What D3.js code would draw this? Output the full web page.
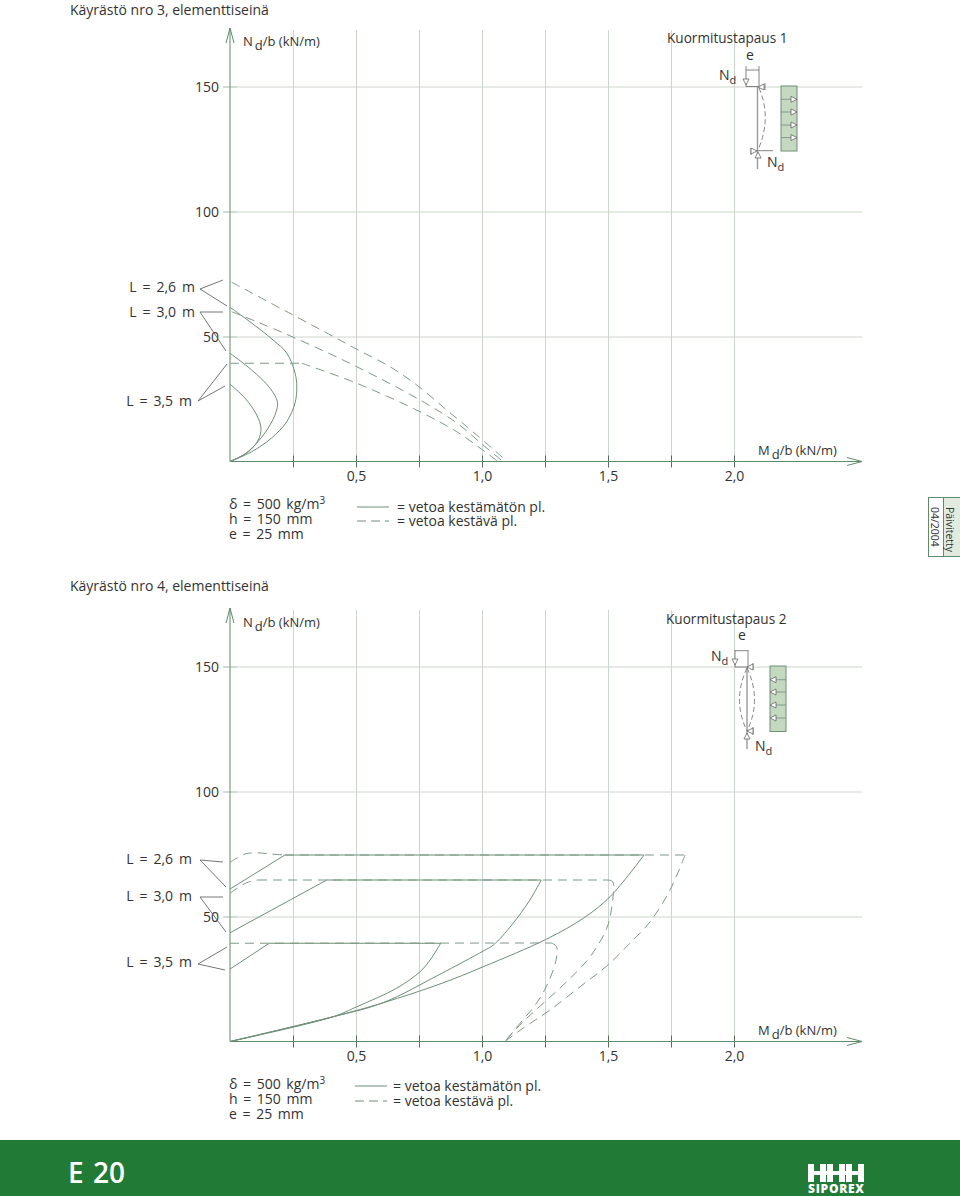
<!DOCTYPE html>
<html>
<head>
<meta charset="utf-8">
<script src="https://cdn.jsdelivr.net/npm/d3@7/dist/d3.min.js"></script>
<style>
html,body{margin:0;padding:0;background:#fff}
svg{display:block}
text{font-family:"Open Sans",sans-serif;font-size:14px;fill:#333}
</style>
</head>
<body>
<div id="plot"></div>
<script>
// values: [M d/b, N d/b]
let solid1 = [
    [[0,61.7],[.079,55.9],[.171,48.6],[.225,43.4],[.258,35.4],[.265,29.9],[.258,23.4],[.225,15.9],[.165,9.4],[.086,3.9],[0,0]],
    [[0,43.3],[.086,36.6],[.159,29.3],[.188,23.9],[.183,19.9],[.151,13.3],[.099,6.6],[.053,2.6],[0,0]],
    [[0,30.9],[.06,25.3],[.106,18.6],[.123,13.3],[.112,8.6],[.073,3.9],[0,0]]
];
let dashed1 = [
    [[.007,71.7],[.25,58.6],[.423,49.3],[.503,44.9],[.635,37.9],[.741,30.6],[.86,20.6],[.979,10.6],[1.1,0]],
    [[.007,59.9],[.106,55.9],[.251,49.7],[.489,38.6],[.754,24.6],[.9,15.4],[1.004,6.6],[1.083,0]],
    [[0,39.3],[.285,39.3]],
    [[.285,39.3],[.503,31.3],[.754,19.9],[.9,11.9],[.992,5.4],[1.063,0]]
];
let solid2 = [
    [[0,61],[.218,74.6]],
    [[.218,74.6],[1.643,74.6]],
    [[1.643,74.6],[1.508,57.9],[1.402,49.3],[1.257,41],[1.005,29.9],[.833,23],[.608,15.5],[.409,9.9],[0,0]],
    [[0,43.5],[.384,64.6]],
    [[.384,64.6],[1.235,64.6]],
    [[1.235,64.6],[1.19,56.6],[1.118,46.6],[1.045,38.6],[1.005,36.2],[.833,26.9],[.607,15.5],[.409,9.9],[0,0]],
    [[0,29],[.156,39.3]],
    [[.156,39.3],[.836,39.3]],
    [[.836,39.3],[.794,32.6],[.754,27.9],[.661,21.3],[.503,13.9],[.409,9.9],[0,0]]
];
let dashed2 = [
    [[0,71.7],[.06,75],[.106,75.5],[.159,75],[.218,74.6]],
    [[.218,74.6],[1.806,74.6]],
    [[1.806,74.6],[1.746,60.6],[1.667,47.9],[1.587,39.3],[1.495,30.2],[1.389,21.9],[1.27,12.6],[1.164,5.4],[1.091,0]],
    [[0,59.3],[.066,63.5],[.111,64.6]],
    [[.111,64.6],[1.501,64.6]],
    [[1.501,64.6],[1.519,63.9],[1.515,53.9],[1.495,45.3],[1.429,33.9],[1.336,23.9],[1.243,15.3],[1.163,7.9],[1.091,0]],
    [[0,39.3],[1.277,39.4]],
    [[1.277,39.4],[1.296,37.9],[1.294,32.6],[1.262,23.4],[1.217,15.4],[1.151,7.3],[1.091,0]]
];
let xTicks = [.25,.5,.75,1,1.25,1.5,1.75,2];
let xLabels = [.5,1,1.5,2];
let yTicks = [50,100,150];
let lengthLabels = ['L = 2,6 m','L = 3,0 m','L = 3,5 m'];
let legendProps = ['δ = 500 kg/m','h = 150 mm','e = 25 mm'];
let legendLines = ['= vetoa kestämätön pl.','= vetoa kestävä pl.'];

let green = '#5e8b69', grid = '#ccd6cc', curveCol = '#6d9076';
let svg = d3.select('#plot').append('svg').attr('width',960).attr('height',1196);

function arrow(g,pts){
    g.append('path').attr('d','M'+pts.join('L')).attr('fill','none').attr('stroke',green).attr('stroke-width',1);
}
function tri(g,x,y,dir){
    // small open triangle pointing in dir
    let s = 3, l = 6;
    let p = {r:[[x-l,y-s],[x,y],[x-l,y+s]], l:[[x+l,y-s],[x,y],[x+l,y+s]],
             d:[[x-s,y-l],[x,y],[x+s,y-l]], u:[[x-s,y+l],[x,y],[x+s,y+l]]}[dir];
    g.append('path').attr('d','M'+p.join('L')+'Z').attr('fill','#fff').attr('stroke','#666').attr('stroke-width',.8);
}
function axisLabel(g,x,y,main){
    let t = g.append('text').attr('x',x).attr('y',y).style('font-size','13px');
    t.append('tspan').text(main);
    t.append('tspan').attr('dy',4).attr('dx',2).text('d');
    t.append('tspan').attr('dy',-4).text('/b (kN/m)');
}
function forceLabel(g,x,y){
    let t = g.append('text').attr('x',x).attr('y',y).style('font-size','14px');
    t.append('tspan').text('N');
    t.append('tspan').attr('dy',4).style('font-size','11px').text('d');
}

function drawChart(y0,opt){
    let x = d3.scaleLinear().domain([0,2.5]).range([230,860]);
    let y = d3.scaleLinear().domain([0,150]).range([y0,y0-375]);
    let g = svg.append('g');

    g.append('text').attr('x',70).attr('y',opt.titleY).text(opt.title);

    // grid through the library's axes
    let gx = g.append('g').attr('transform',`translate(0,${y0})`)
        .call(d3.axisBottom(x).tickValues(xTicks).tickSize(0).tickFormat(''));
    gx.select('.domain').remove();
    gx.selectAll('line').attr('y2',-(y0-opt.gridTop)).attr('stroke',grid);
    let gt = g.append('g').attr('transform',`translate(0,${y0})`)
        .call(d3.axisBottom(x).tickValues(xTicks).tickSize(6).tickFormat(d=>xLabels.includes(d)?d.toFixed(1).replace('.',','):''));
    gt.select('.domain').remove();
    gt.selectAll('line').attr('y1',-6).attr('y2',6).attr('stroke','#55705c');
    gt.selectAll('text').attr('dy',0).attr('y',19).style('font-size','14px').attr('fill','#333');

    let gy = g.append('g').attr('transform','translate(230,0)')
        .call(d3.axisLeft(y).tickValues(yTicks).tickSize(7).tickPadding(4));
    gy.select('.domain').remove();
    gy.selectAll('line').attr('stroke','#a9b6ab').attr('x1',7);
    gy.selectAll('text').style('font-size','14px').attr('fill','#333').attr('dy','.35em');
    gy.selectAll('.tick').append('line').attr('x1',7).attr('x2',632).attr('stroke',grid);

    // axes with arrows
    arrow(g,[[230,y0],[230,opt.axisTop]]);
    arrow(g,[[226,opt.axisTop+15],[230,opt.axisTop],[234,opt.axisTop+15]]);
    arrow(g,[[230,y0],[862,y0]]);
    arrow(g,[[847,y0-4],[862,y0],[847,y0+4]]);

    let line = d3.line().x(d=>x(d[0])).y(d=>y(d[1])).curve(d3.curveCatmullRom.alpha(.5));
    g.selectAll(null).data(opt.solid).enter().append('path').attr('d',line)
        .attr('fill','none').attr('stroke',curveCol).attr('stroke-width',1);
    g.selectAll(null).data(opt.dashed).enter().append('path').attr('d',line)
        .attr('fill','none').attr('stroke','#7d9a84').attr('stroke-width',1).attr('stroke-dasharray','9 6');

    // L labels and their leaders
    lengthLabels.forEach(function(l,i){
        g.append('text').attr('x',opt.labelX[i]).attr('y',opt.labelY[i]).attr('text-anchor','end')
            .style('word-spacing','2.3px').text(l);
        let p = opt.leaders[i];
        g.append('path').attr('d','M'+p.join('L')).attr('fill','none').attr('stroke','#666').attr('stroke-width',.9);
    });

    axisLabel(g,243,opt.nY,'N');
    axisLabel(g,758,opt.mY,'M');

    // legend
    legendProps.forEach(function(l,i){
        let t = g.append('text').attr('x',229).attr('y',opt.propY+15*i).style('word-spacing','2px').text(l);
        if(i==0) t.append('tspan').attr('dy',-5).style('font-size','10px').text('3');
    });
    legendLines.forEach(function(l,i){
        g.append('text').attr('x',opt.legX).attr('y',opt.legY[i]).text(l);
        g.append('line').attr('x1',opt.legLine).attr('x2',opt.legLine+32)
            .attr('y1',opt.legY[i]-5).attr('y2',opt.legY[i]-5)
            .attr('stroke',curveCol).attr('stroke-dasharray',i?'9 5':null);
    });
    return g;
}

let upper = drawChart(461.5,{title:'Käyrästö nro 3, elementtiseinä',titleY:15,gridTop:30,axisTop:28,
    solid:solid1,dashed:dashed1,labelX:[195,195,192],labelY:[292,317,406],
    leaders:[[[223,280],[200,289],[227,306]],[[223,312],[200,312],[226,351]],[[227,364],[198,401],[225,386]]],
    nY:46,mY:455,propY:509,legX:397,legY:[512,526],legLine:357});
let lower = drawChart(1041.5,{title:'Käyrästö nro 4, elementtiseinä',titleY:591,gridTop:610,axisTop:608,
    solid:solid2,dashed:dashed2,labelX:[192,192,192],labelY:[864,901,967],
    leaders:[[[223,862],[200,860],[226,887]],[[223,897],[200,897],[226,932]],[[227,947],[198,964],[225,970]]],
    nY:627,mY:1035,propY:1089,legX:393,legY:[1091,1106],legLine:355});

// load case 1
upper.append('text').attr('x',667).attr('y',43).style('font-size','13.6px').text('Kuormitustapaus 1');
upper.append('text').attr('x',746).attr('y',60).text('e');
forceLabel(upper,719,80);
forceLabel(upper,767,167);
let lc = upper.append('g').attr('fill','none').attr('stroke','#777').attr('stroke-width',.9);
lc.append('path').attr('d','M746,66V86.5H759M759,66V86.5M746,70H759');
lc.append('path').attr('d','M757.5,86.5V169').attr('stroke-width',1.4).attr('stroke','#999');
lc.append('path').attr('d','M757,150.7H773');
lc.append('path').attr('d','M759,88Q772,118 758,150').attr('stroke-dasharray','5 3');
lc.append('path').attr('d','M765,83V90M751,148V155');
tri(upper,746,85,'d');tri(upper,758,87,'l');tri(upper,757,151,'r');tri(upper,758,152,'u');
upper.append('rect').attr('x',781).attr('y',86).attr('width',16).attr('height',65).attr('fill','#c5d8c0').attr('stroke','#6d9076');
[99.3,112,125,137.6].forEach(function(v){
    upper.append('line').attr('x1',781).attr('x2',797).attr('y1',v).attr('y2',v).attr('stroke','#6d9076').attr('stroke-width',.8);
    tri(upper,797,v,'r');
});

// load case 2
lower.append('text').attr('x',666).attr('y',624).style('font-size','13.6px').text('Kuormitustapaus 2');
lower.append('text').attr('x',738).attr('y',640).text('e');
forceLabel(lower,711,661);
forceLabel(lower,755,751);
let lc2 = lower.append('g').attr('fill','none').attr('stroke','#777').attr('stroke-width',.9);
lc2.append('path').attr('d','M735,650V667H748M748,650V667M735,650.7H748');
lc2.append('path').attr('d','M747,667V749').attr('stroke-width',1.4).attr('stroke','#999');
lc2.append('path').attr('d','M747,668Q732,700 747,731M747,668Q762,700 747,731').attr('stroke-dasharray','5 3');
lc2.append('path').attr('d','M753,663V670M753,727V735');
tri(lower,735,665,'d');tri(lower,747,667,'l');tri(lower,747,731,'l');tri(lower,747,733,'u');
lower.append('rect').attr('x',770).attr('y',666).attr('width',16).attr('height',65.5).attr('fill','#c5d8c0').attr('stroke','#6d9076');
[679.7,692,705,718].forEach(function(v){
    lower.append('line').attr('x1',770).attr('x2',786).attr('y1',v).attr('y2',v).attr('stroke','#6d9076').attr('stroke-width',.8);
    tri(lower,770,v,'l');
});

// updated tab
svg.append('rect').attr('x',928.5).attr('y',497.5).attr('width',15).attr('height',59).attr('fill','#fff').attr('stroke',green);
svg.append('rect').attr('x',943.5).attr('y',497.5).attr('width',17).attr('height',59).attr('fill','#e2ebdf').attr('stroke',green);
svg.append('text').attr('transform','translate(946,507) rotate(90)').style('font-size','10.5px').text('Päivitetty');
svg.append('text').attr('transform','translate(931,507) rotate(90)').style('font-size','10.5px').text('04/2004');

// footer
svg.append('rect').attr('x',0).attr('y',1140).attr('width',960).attr('height',56).attr('fill','#217a35');
svg.append('text').attr('x',68).attr('y',1183).style('font-size','28px').style('font-weight','600').style('fill','#fff').style('word-spacing','2px').text('E 20');
let logo = svg.append('g').attr('fill','#fff');
[808,827,846].forEach(function(lx){
    logo.append('rect').attr('x',lx).attr('y',1164).attr('width',6).attr('height',18);
    logo.append('rect').attr('x',lx+12).attr('y',1164).attr('width',6).attr('height',18);
    logo.append('rect').attr('x',lx).attr('y',1171).attr('width',18).attr('height',4);
});
logo.append('rect').attr('x',825).attr('y',1171).attr('width',21).attr('height',4);
svg.append('text').attr('x',836).attr('y',1193).attr('text-anchor','middle').style('font-size','12px').style('font-weight','800').style('fill','#fff').attr('textLength',56).text('SIPOREX');
</script>
</body>
</html>
